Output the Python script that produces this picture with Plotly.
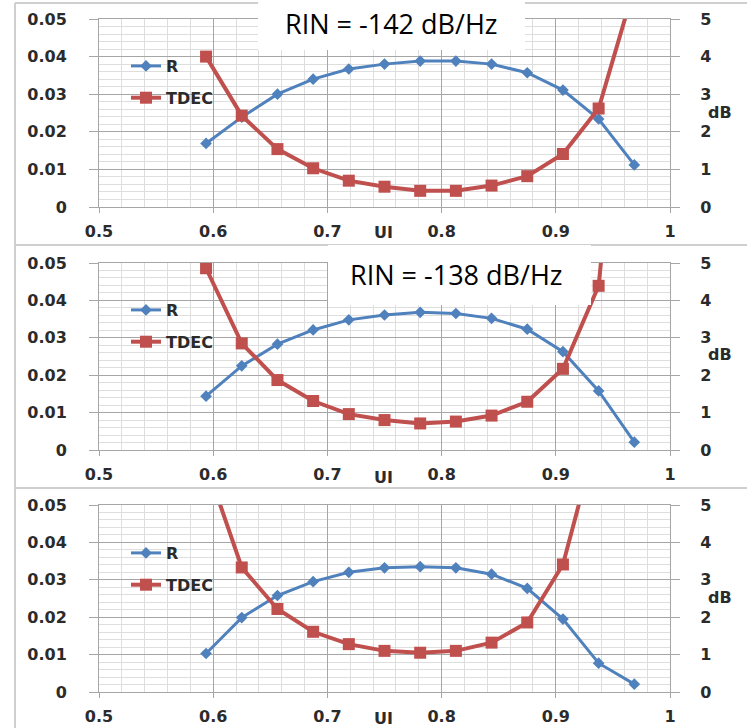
import plotly.graph_objects as go

W, H = 747, 728

# ---------------- data ----------------
ui = [0.59375, 0.625, 0.65625, 0.6875, 0.71875, 0.75, 0.78125,
      0.8125, 0.84375, 0.875, 0.90625, 0.9375, 0.96875]

r_142 = [0.0169, 0.0239, 0.0300, 0.0340, 0.0367, 0.0380, 0.0388,
         0.0388, 0.0380, 0.0357, 0.0311, 0.0234, 0.0112]
tdec_142 = [4.00, 2.43, 1.54, 1.03, 0.70, 0.54, 0.43,
            0.43, 0.57, 0.82, 1.41, 2.62, 5.85]

r_138 = [0.0144, 0.0225, 0.0283, 0.0321, 0.0348, 0.0361, 0.0368,
         0.0365, 0.0352, 0.0323, 0.0263, 0.0158, 0.0021]
tdec_138 = [4.86, 2.85, 1.87, 1.31, 0.96, 0.80, 0.71,
            0.76, 0.92, 1.29, 2.17, 4.39, 14.0]

r_3 = [0.0103, 0.0199, 0.0258, 0.0295, 0.0320, 0.0332, 0.0335,
       0.0332, 0.0315, 0.0277, 0.0195, 0.0077, 0.0021]
tdec_3 = [6.1, 3.33, 2.22, 1.61, 1.28, 1.10, 1.05,
          1.10, 1.32, 1.86, 3.41, 7.0, None]

panel_titles = ["RIN = -142 dB/Hz", "RIN = -138 dB/Hz", None]
series_names = ["R", "TDEC"]

# ---------------- styling ----------------
BLUE = "#4F81BD"
RED = "#C0504D"
MAJ = "#a6a6a6"
MIN = "#dedede"
TXT = "#2b2b2b"
FONT = dict(family="DejaVu Sans", size=16, color=TXT, weight="bold")


def fx(p):
    return p / W


def fy(p):
    return 1 - p / H


# pixel geometry of each panel: (top, bottom) of the plotting area
panels = [(19, 207), (263, 450), (505, 692)]
PL, PR = 99, 670

data_sets = [(r_142, tdec_142), (r_138, tdec_138), (r_3, tdec_3)]

fig = go.Figure()
layout = dict(
    width=W, height=H, autosize=False,
    margin=dict(l=0, r=0, t=0, b=0, pad=0, autoexpand=False),
    paper_bgcolor="white", plot_bgcolor="white",
    font=FONT,
    showlegend=True,
)

annotations = []
shapes = []

# panel borders
shapes.append(dict(type="line", xref="paper", yref="paper",
                   x0=fx(15), x1=fx(15), y0=fy(3), y1=0,
                   line=dict(color="#cfcfcf", width=2), layer="below"))
for yy in (3, 245, 488):
    shapes.append(dict(type="line", xref="paper", yref="paper",
                       x0=fx(15), x1=1, y0=fy(yy), y1=fy(yy),
                       line=dict(color="#cfcfcf", width=2), layer="below"))

legend_tops = [49, 293, 536]
title_boxes = [(258, 525, 0, 50, 391, 23), (328, 591, 245, 305, 456, 274)]
ui_y = [233, 477, 718]
db_y = [112, 354, 597]

for i, ((top, bot), (rv, tv)) in enumerate(zip(panels, data_sets)):
    n = i + 1
    xa = "x" if n == 1 else f"x{n}"
    ya_l = "y" if n == 1 else f"y{2 * n - 1}"
    ya_r = f"y{2 * n}"
    leg = "legend" if n == 1 else f"legend{n}"

    fig.add_trace(go.Scatter(
        x=ui, y=rv, name=series_names[0], xaxis=xa, yaxis=ya_l,
        mode="lines+markers", legend=leg, legendgroup=f"r{n}",
        line=dict(color=BLUE, width=3),
        marker=dict(symbol="diamond", size=9, color=BLUE),
    ))
    fig.add_trace(go.Scatter(
        x=ui, y=tv, name=series_names[1], xaxis=xa, yaxis=ya_r,
        mode="lines+markers", legend=leg, legendgroup=f"t{n}",
        connectgaps=False,
        line=dict(color=RED, width=4),
        marker=dict(symbol="square", size=12, color=RED),
    ))

    xkey = "xaxis" if n == 1 else f"xaxis{n}"
    ylkey = "yaxis" if n == 1 else f"yaxis{2 * n - 1}"
    yrkey = f"yaxis{2 * n}"

    layout[xkey] = dict(
        domain=[fx(PL), fx(PR)], anchor=ya_l, range=[0.5, 1.0],
        tick0=0.5, dtick=0.1, showgrid=True, gridcolor=MAJ, gridwidth=1,
        minor=dict(dtick=0.02, tick0=0.5, showgrid=True, gridcolor=MIN, gridwidth=1),
        showline=True, linecolor=MAJ, linewidth=1, mirror=True,
        ticks="outside", ticklen=5, tickcolor=MAJ,
        tickfont=FONT, ticklabelstandoff=5, zeroline=False, automargin=False,
    )
    layout[ylkey] = dict(
        domain=[fy(bot), fy(top)], anchor=xa, range=[0, 0.05],
        tick0=0, dtick=0.01, showgrid=True, gridcolor=MAJ, gridwidth=1,
        minor=dict(dtick=0.002, tick0=0, showgrid=True, gridcolor=MIN, gridwidth=1),
        showline=True, linecolor=MAJ, linewidth=1, mirror=True,
        ticks="outside", ticklen=9, tickcolor=MAJ,
        tickfont=FONT, ticklabelstandoff=19, zeroline=False, automargin=False,
    )
    layout[yrkey] = dict(
        overlaying=ya_l, side="right", anchor=xa, range=[0, 5],
        tick0=0, dtick=1, showgrid=False, showline=False,
        ticks="outside", ticklen=9, tickcolor=MAJ,
        tickfont=FONT, ticklabelstandoff=17, zeroline=False, automargin=False,
    )
    layout[leg] = dict(
        x=fx(126), xanchor="left", y=fy(legend_tops[i]), yanchor="top",
        bgcolor="rgba(0,0,0,0)", font=FONT, traceorder="grouped",
        tracegroupgap=8, itemwidth=30,
    )

    annotations.append(dict(text="UI", xref="paper", yref="paper",
                            x=fx(384), y=fy(ui_y[i]), showarrow=False,
                            font=FONT, xanchor="center", yanchor="middle"))
    annotations.append(dict(text="dB", xref="paper", yref="paper",
                            x=fx(720), y=fy(db_y[i]), showarrow=False,
                            font=FONT, xanchor="center", yanchor="middle"))

    if panel_titles[i]:
        x0, x1, y0, y1, cx, cy = title_boxes[i]
        shapes.append(dict(type="rect", xref="paper", yref="paper",
                           x0=fx(x0), x1=fx(x1), y0=fy(y1), y1=fy(y0),
                           fillcolor="white", line=dict(width=0), layer="above"))
        annotations.append(dict(text=panel_titles[i], xref="paper", yref="paper",
                                x=fx(cx), y=fy(cy), showarrow=False,
                                font=dict(family="Open Sans", size=27,
                                          color="black", weight="normal"),
                                xanchor="center", yanchor="middle"))

layout["annotations"] = annotations
layout["shapes"] = shapes
fig.update_layout(**layout)

fig.write_html(
    "out.html",
    config={"displayModeBar": False},
    post_script="document.body.style.margin='0';document.body.style.overflow='hidden';",
)
